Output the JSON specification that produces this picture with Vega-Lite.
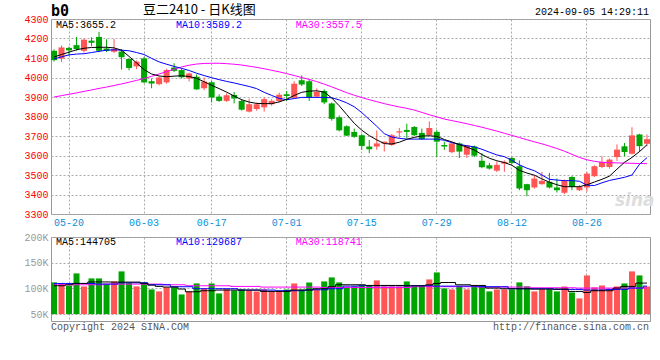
{
  "$schema": "https://vega.github.io/schema/vega-lite/v6.json",
  "background": "white",
  "padding": {"left": 23, "top": 3, "right": 5, "bottom": 5},
  "spacing": 3,
  "config": {
    "view": {"stroke": "#999999", "strokeWidth": 1},
    "axis": {"ticks": false, "domain": false, "gridDash": [2, 2], "gridColor": "#aaaaaa", "gridOpacity": 1, "labelFont": "Liberation Mono", "labelFontSize": 10},
    "text": {"font": "Liberation Mono", "fontSize": 10},
    "line": {"strokeWidth": 1}
  },
  "datasets": {
    "k": [
      {"d":"05-16","o":4137,"h":4144,"l":4082,"c":4089,"v":111700,"m5":4105,"m10":4095,"m30":3900,"w5":105200,"w10":109700,"w30":107100},
      {"d":"05-17","o":4097,"h":4164,"l":4080,"c":4154,"v":108400,"m5":4118,"m10":4106,"m30":3907,"w5":105200,"w10":109700,"w30":107100},
      {"d":"05-20","o":4152,"h":4158,"l":4112,"c":4139,"v":105200,"m5":4130,"m10":4116,"m30":3914,"w5":107100,"w10":109700,"w30":107100},
      {"d":"05-21","o":4166,"h":4208,"l":4138,"c":4146,"v":129200,"m5":4142,"m10":4120,"m30":3921,"w5":109700,"w10":109700,"w30":107100},
      {"d":"05-22","o":4137,"h":4198,"l":4128,"c":4194,"v":103900,"m5":4150,"m10":4122,"m30":3929,"w5":109700,"w10":109700,"w30":107100},
      {"d":"05-23","o":4189,"h":4206,"l":4160,"c":4178,"v":119500,"m5":4154,"m10":4128,"m30":3936,"w5":112600,"w10":109700,"w30":107100},
      {"d":"05-24","o":4208,"h":4234,"l":4130,"c":4137,"v":119500,"m5":4155,"m10":4134,"m30":3944,"w5":112600,"w10":108400,"w30":107100},
      {"d":"05-27","o":4149,"h":4196,"l":4130,"c":4136,"v":108400,"m5":4155,"m10":4140,"m30":3951,"w5":112600,"w10":108400,"w30":108400},
      {"d":"05-28","o":4132,"h":4198,"l":4126,"c":4147,"v":113600,"m5":4152,"m10":4142,"m30":3959,"w5":112300,"w10":108400,"w30":108400},
      {"d":"05-29","o":4133,"h":4146,"l":4041,"c":4104,"v":133100,"m5":4140,"m10":4140,"m30":3967,"w5":112300,"w10":111000,"w30":108400},
      {"d":"05-30","o":4095,"h":4097,"l":4037,"c":4049,"v":110400,"m5":4108,"m10":4137,"m30":3976,"w5":112300,"w10":111000,"w30":108400},
      {"d":"05-31","o":4057,"h":4087,"l":4043,"c":4081,"v":103900,"m5":4075,"m10":4128,"m30":3985,"w5":112300,"w10":111000,"w30":108400},
      {"d":"06-03","o":4098,"h":4106,"l":3970,"c":3975,"v":111700,"m5":4040,"m10":4118,"m30":3995,"w5":109700,"w10":111000,"w30":108400},
      {"d":"06-04","o":3981,"h":3994,"l":3945,"c":3969,"v":98100,"m5":4018,"m10":4098,"m30":4006,"w5":106500,"w10":107100,"w30":108400},
      {"d":"06-05","o":3966,"h":4004,"l":3960,"c":4000,"v":94200,"m5":4008,"m10":4080,"m30":4018,"w5":104000,"w10":107100,"w30":108400},
      {"d":"06-06","o":3975,"h":4045,"l":3968,"c":4038,"v":102000,"m5":4004,"m10":4068,"m30":4030,"w5":102600,"w10":107100,"w30":107100},
      {"d":"06-07","o":4051,"h":4073,"l":4028,"c":4034,"v":102000,"m5":4007,"m10":4057,"m30":4042,"w5":102600,"w10":103300,"w30":107100},
      {"d":"06-11","o":4038,"h":4046,"l":3996,"c":4001,"v":88300,"m5":4009,"m10":4047,"m30":4054,"w5":98800,"w10":103300,"w30":107100},
      {"d":"06-12","o":3995,"h":4025,"l":3980,"c":4021,"v":94200,"m5":4005,"m10":4036,"m30":4063,"w5":93500,"w10":103300,"w30":105200},
      {"d":"06-13","o":4004,"h":4016,"l":3937,"c":3939,"v":109700,"m5":3996,"m10":4022,"m30":4069,"w5":93500,"w10":99400,"w30":105200},
      {"d":"06-14","o":3945,"h":4000,"l":3935,"c":3980,"v":100000,"m5":3978,"m10":4010,"m30":4072,"w5":95500,"w10":99400,"w30":105200},
      {"d":"06-17","o":3976,"h":3982,"l":3872,"c":3897,"v":109700,"m5":3960,"m10":3999,"m30":4073,"w5":95500,"w10":99400,"w30":105200},
      {"d":"06-18","o":3902,"h":3914,"l":3875,"c":3880,"v":90300,"m5":3943,"m10":3989,"m30":4073,"w5":96800,"w10":99400,"w30":105200},
      {"d":"06-19","o":3880,"h":3919,"l":3875,"c":3909,"v":98100,"m5":3925,"m10":3980,"m30":4071,"w5":96800,"w10":99400,"w30":105200},
      {"d":"06-20","o":3910,"h":3926,"l":3867,"c":3892,"v":96100,"m5":3905,"m10":3972,"m30":4068,"w5":96800,"w10":99400,"w30":103900},
      {"d":"06-21","o":3880,"h":3889,"l":3830,"c":3835,"v":98100,"m5":3886,"m10":3963,"m30":4064,"w5":96800,"w10":96800,"w30":103900},
      {"d":"06-24","o":3825,"h":3892,"l":3821,"c":3863,"v":96100,"m5":3874,"m10":3954,"m30":4058,"w5":96800,"w10":96800,"w30":103900},
      {"d":"06-25","o":3838,"h":3872,"l":3830,"c":3863,"v":94200,"m5":3867,"m10":3943,"m30":4052,"w5":96800,"w10":96800,"w30":103900},
      {"d":"06-26","o":3847,"h":3897,"l":3825,"c":3889,"v":98100,"m5":3866,"m10":3924,"m30":4045,"w5":94200,"w10":96800,"w30":102600},
      {"d":"06-27","o":3863,"h":3889,"l":3855,"c":3880,"v":94200,"m5":3866,"m10":3908,"m30":4037,"w5":94200,"w10":96800,"w30":102600},
      {"d":"06-28","o":3880,"h":3922,"l":3872,"c":3912,"v":94200,"m5":3875,"m10":3893,"m30":4029,"w5":94200,"w10":95500,"w30":102600},
      {"d":"07-01","o":3914,"h":3931,"l":3880,"c":3905,"v":98100,"m5":3888,"m10":3886,"m30":4020,"w5":94200,"w10":95500,"w30":102600},
      {"d":"07-02","o":3897,"h":3981,"l":3892,"c":3968,"v":109700,"m5":3908,"m10":3892,"m30":4010,"w5":96800,"w10":95500,"w30":102600},
      {"d":"07-03","o":3986,"h":4011,"l":3956,"c":3964,"v":98100,"m5":3924,"m10":3898,"m30":4000,"w5":96800,"w10":95500,"w30":102600},
      {"d":"07-04","o":3981,"h":3989,"l":3880,"c":3897,"v":111700,"m5":3930,"m10":3898,"m30":3990,"w5":96800,"w10":97400,"w30":102600},
      {"d":"07-05","o":3902,"h":3944,"l":3897,"c":3927,"v":98100,"m5":3932,"m10":3898,"m30":3979,"w5":99400,"w10":97400,"w30":102600},
      {"d":"07-08","o":3931,"h":3939,"l":3863,"c":3872,"v":113600,"m5":3925,"m10":3898,"m30":3966,"w5":99400,"w10":97400,"w30":101800},
      {"d":"07-09","o":3867,"h":3872,"l":3779,"c":3788,"v":121400,"m5":3895,"m10":3896,"m30":3952,"w5":103300,"w10":99400,"w30":101800},
      {"d":"07-10","o":3796,"h":3805,"l":3724,"c":3729,"v":111700,"m5":3855,"m10":3885,"m30":3937,"w5":107100,"w10":99400,"w30":101800},
      {"d":"07-11","o":3750,"h":3755,"l":3700,"c":3702,"v":102000,"m5":3810,"m10":3870,"m30":3922,"w5":107100,"w10":104500,"w30":101800},
      {"d":"07-12","o":3721,"h":3738,"l":3691,"c":3696,"v":103900,"m5":3765,"m10":3850,"m30":3909,"w5":107100,"w10":104500,"w30":101800},
      {"d":"07-15","o":3704,"h":3710,"l":3629,"c":3649,"v":105800,"m5":3730,"m10":3820,"m30":3897,"w5":107100,"w10":105200,"w30":101800},
      {"d":"07-16","o":3646,"h":3679,"l":3612,"c":3632,"v":105800,"m5":3702,"m10":3785,"m30":3886,"w5":105800,"w10":105200,"w30":101800},
      {"d":"07-17","o":3646,"h":3729,"l":3629,"c":3662,"v":115600,"m5":3680,"m10":3750,"m30":3876,"w5":105800,"w10":105200,"w30":101800},
      {"d":"07-18","o":3662,"h":3671,"l":3620,"c":3671,"v":103900,"m5":3661,"m10":3712,"m30":3866,"w5":105800,"w10":105200,"w30":101800},
      {"d":"07-19","o":3654,"h":3710,"l":3649,"c":3704,"v":103900,"m5":3659,"m10":3695,"m30":3857,"w5":105800,"w10":105200,"w30":101800},
      {"d":"07-22","o":3718,"h":3741,"l":3688,"c":3724,"v":103900,"m5":3668,"m10":3688,"m30":3849,"w5":105800,"w10":105200,"w30":101800},
      {"d":"07-23","o":3731,"h":3763,"l":3688,"c":3721,"v":113600,"m5":3683,"m10":3684,"m30":3842,"w5":105200,"w10":105200,"w30":101800},
      {"d":"07-24","o":3746,"h":3751,"l":3700,"c":3704,"v":103900,"m5":3693,"m10":3684,"m30":3833,"w5":105200,"w10":105200,"w30":103300},
      {"d":"07-25","o":3716,"h":3738,"l":3680,"c":3684,"v":105800,"m5":3700,"m10":3684,"m30":3821,"w5":105200,"w10":105200,"w30":103300},
      {"d":"07-26","o":3704,"h":3775,"l":3700,"c":3741,"v":117500,"m5":3701,"m10":3684,"m30":3809,"w5":107000,"w10":105200,"w30":103300},
      {"d":"07-29","o":3721,"h":3730,"l":3592,"c":3671,"v":131100,"m5":3698,"m10":3684,"m30":3798,"w5":109700,"w10":104500,"w30":103300},
      {"d":"07-30","o":3654,"h":3671,"l":3629,"c":3646,"v":100000,"m5":3682,"m10":3678,"m30":3787,"w5":111500,"w10":104500,"w30":103300},
      {"d":"07-31","o":3617,"h":3667,"l":3612,"c":3662,"v":98100,"m5":3670,"m10":3666,"m30":3779,"w5":111500,"w10":104500,"w30":103300},
      {"d":"08-01","o":3662,"h":3667,"l":3587,"c":3620,"v":103900,"m5":3656,"m10":3657,"m30":3771,"w5":107100,"w10":104500,"w30":103300},
      {"d":"08-02","o":3604,"h":3654,"l":3587,"c":3651,"v":98100,"m5":3643,"m10":3650,"m30":3763,"w5":107100,"w10":104500,"w30":103300},
      {"d":"08-05","o":3646,"h":3651,"l":3592,"c":3599,"v":105800,"m5":3628,"m10":3644,"m30":3754,"w5":105800,"w10":104500,"w30":103300},
      {"d":"08-06","o":3573,"h":3612,"l":3535,"c":3540,"v":105800,"m5":3605,"m10":3632,"m30":3745,"w5":105800,"w10":103300,"w30":102600},
      {"d":"08-07","o":3550,"h":3562,"l":3528,"c":3533,"v":94200,"m5":3586,"m10":3617,"m30":3735,"w5":100700,"w10":103300,"w30":102600},
      {"d":"08-08","o":3522,"h":3570,"l":3515,"c":3552,"v":98100,"m5":3573,"m10":3603,"m30":3725,"w5":100700,"w10":103300,"w30":102600},
      {"d":"08-09","o":3558,"h":3575,"l":3516,"c":3567,"v":98100,"m5":3564,"m10":3594,"m30":3714,"w5":99400,"w10":103300,"w30":102600},
      {"d":"08-12","o":3587,"h":3592,"l":3555,"c":3562,"v":98100,"m5":3550,"m10":3575,"m30":3703,"w5":99400,"w10":99400,"w30":102600},
      {"d":"08-13","o":3545,"h":3575,"l":3422,"c":3431,"v":111700,"m5":3524,"m10":3552,"m30":3692,"w5":99400,"w10":99400,"w30":102600},
      {"d":"08-14","o":3453,"h":3455,"l":3391,"c":3422,"v":103900,"m5":3510,"m10":3535,"m30":3681,"w5":99400,"w10":99400,"w30":102600},
      {"d":"08-15","o":3436,"h":3499,"l":3430,"c":3482,"v":94200,"m5":3499,"m10":3522,"m30":3670,"w5":98700,"w10":99400,"w30":101300},
      {"d":"08-16","o":3453,"h":3516,"l":3450,"c":3470,"v":98100,"m5":3480,"m10":3500,"m30":3660,"w5":98700,"w10":99400,"w30":101300},
      {"d":"08-19","o":3465,"h":3511,"l":3431,"c":3436,"v":98100,"m5":3463,"m10":3478,"m30":3648,"w5":98700,"w10":99400,"w30":101300},
      {"d":"08-20","o":3436,"h":3482,"l":3410,"c":3422,"v":94200,"m5":3450,"m10":3474,"m30":3636,"w5":98700,"w10":98100,"w30":101300},
      {"d":"08-21","o":3409,"h":3477,"l":3402,"c":3470,"v":103900,"m5":3440,"m10":3471,"m30":3622,"w5":98700,"w10":98100,"w30":101300},
      {"d":"08-22","o":3490,"h":3494,"l":3422,"c":3439,"v":92200,"m5":3440,"m10":3471,"m30":3606,"w5":94200,"w10":98100,"w30":101300},
      {"d":"08-23","o":3422,"h":3448,"l":3418,"c":3439,"v":80600,"m5":3440,"m10":3468,"m30":3590,"w5":94200,"w10":98100,"w30":100700},
      {"d":"08-26","o":3436,"h":3516,"l":3414,"c":3507,"v":125300,"m5":3450,"m10":3448,"m30":3578,"w5":92200,"w10":96800,"w30":100700},
      {"d":"08-27","o":3494,"h":3550,"l":3490,"c":3545,"v":102000,"m5":3464,"m10":3446,"m30":3570,"w5":95500,"w10":96800,"w30":100700},
      {"d":"08-28","o":3541,"h":3596,"l":3535,"c":3567,"v":105800,"m5":3478,"m10":3460,"m30":3565,"w5":95500,"w10":96800,"w30":100700},
      {"d":"08-29","o":3541,"h":3584,"l":3533,"c":3579,"v":98100,"m5":3494,"m10":3472,"m30":3563,"w5":95500,"w10":98100,"w30":100700},
      {"d":"08-30","o":3592,"h":3657,"l":3572,"c":3630,"v":103900,"m5":3530,"m10":3480,"m30":3562,"w5":100700,"w10":98100,"w30":100700},
      {"d":"09-02","o":3647,"h":3664,"l":3596,"c":3618,"v":109700,"m5":3565,"m10":3488,"m30":3561,"w5":103900,"w10":98100,"w30":100700},
      {"d":"09-03","o":3609,"h":3745,"l":3605,"c":3703,"v":133100,"m5":3590,"m10":3500,"m30":3560,"w5":103900,"w10":100700,"w30":100700},
      {"d":"09-04","o":3708,"h":3711,"l":3618,"c":3648,"v":125300,"m5":3620,"m10":3555,"m30":3559,"w5":110400,"w10":100700,"w30":100700},
      {"d":"09-05","o":3660,"h":3708,"l":3647,"c":3684,"v":103900,"m5":3655,"m10":3589,"m30":3558,"w5":110400,"w10":104500,"w30":100700}
    ]
  },
  "vconcat": [
    {
      "width": 599,
      "height": 195,
      "data": {"name": "k"},
      "encoding": {
        "x": {
          "field": "d", "type": "ordinal",
          "scale": {"paddingInner": 0.2, "paddingOuter": 0},
          "axis": {"values": ["05-20","06-03","06-17","07-01","07-15","07-29","08-12","08-26"], "title": null, "labelAngle": 0, "labelColor": "#0a8fdc", "labelPadding": 3, "grid": true, "labelOverlap": false}
        }
      },
      "layer": [
        {
          "mark": {"type": "rule", "strokeWidth": 1},
          "encoding": {
            "y": {"field": "l", "type": "quantitative", "scale": {"domain": [3300, 4300], "nice": false, "zero": false},
                  "axis": {"values": [3300,3400,3500,3600,3700,3800,3900,4000,4100,4200,4300], "tickCount": 11, "format": "d", "title": null, "labelColor": "#ff0000", "labelPadding": 3, "grid": true, "labelOverlap": false, "labelFlush": false, "labelBound": false}},
            "y2": {"field": "h"},
            "color": {"condition": {"test": "datum.c >= datum.o", "value": "#ff5555"}, "value": "#00a400"}
          }
        },
        {
          "mark": {"type": "bar"},
          "encoding": {
            "y": {"field": "o", "type": "quantitative"},
            "y2": {"field": "c"},
            "color": {"condition": {"test": "datum.c >= datum.o", "value": "#ff5555"}, "value": "#00a400"}
          }
        },
        {"mark": {"type": "line", "color": "#ff00ff"}, "encoding": {"y": {"field": "m30", "type": "quantitative"}}},
        {"mark": {"type": "line", "color": "#0000ff"}, "encoding": {"y": {"field": "m10", "type": "quantitative"}}},
        {"mark": {"type": "line", "color": "#000000"}, "encoding": {"y": {"field": "m5", "type": "quantitative"}}},
        {
          "data": {"values": [{"t": "sina"}]},
          "mark": {"type": "text", "align": "left", "baseline": "middle", "dx": -2, "dy": -13, "font": "DejaVu Sans", "fontWeight": "bold", "fontStyle": "italic", "fontSize": 17, "color": "#dddddd"},
          "encoding": {"x": {"datum": "08-30", "type": "ordinal"}, "y": {"datum": 3300, "type": "quantitative"}, "text": {"field": "t"}}
        },
        {
          "data": {"values": [{"t": "b0"}]},
          "mark": {"type": "text", "align": "left", "baseline": "middle", "dx": -3, "dy": -8, "font": "DejaVu Sans Mono", "fontWeight": "bold", "fontSize": 15, "color": "#000000"},
          "encoding": {"x": {"datum": "05-16", "type": "ordinal"}, "y": {"datum": 4300, "type": "quantitative"}, "text": {"field": "t"}}
        },
        {
          "data": {"values": [{"t": "豆二2410 - 日K线图"}]},
          "mark": {"type": "text", "align": "left", "baseline": "middle", "dx": -1, "dy": -9, "font": "Noto Sans CJK SC", "fontSize": 13, "color": "#000000"},
          "encoding": {"x": {"datum": "06-03", "type": "ordinal"}, "y": {"datum": 4300, "type": "quantitative"}, "text": {"field": "t"}}
        },
        {
          "data": {"values": [{"t": "2024-09-05 14:29:11"}]},
          "mark": {"type": "text", "align": "right", "baseline": "middle", "dx": 2, "dy": -7, "color": "#000000"},
          "encoding": {"x": {"datum": "09-05", "type": "ordinal"}, "y": {"datum": 4300, "type": "quantitative"}, "text": {"field": "t"}}
        },
        {
          "data": {"values": [{"t": "MA5:3655.2"}]},
          "mark": {"type": "text", "align": "left", "baseline": "middle", "dx": 2, "dy": 5.5, "color": "#000000"},
          "encoding": {"x": {"datum": "05-16", "type": "ordinal"}, "y": {"datum": 4300, "type": "quantitative"}, "text": {"field": "t"}}
        },
        {
          "data": {"values": [{"t": "MA10:3589.2"}]},
          "mark": {"type": "text", "align": "left", "baseline": "middle", "dx": 2, "dy": 5.5, "color": "#0000ff"},
          "encoding": {"x": {"datum": "06-07", "type": "ordinal"}, "y": {"datum": 4300, "type": "quantitative"}, "text": {"field": "t"}}
        },
        {
          "data": {"values": [{"t": "MA30:3557.5"}]},
          "mark": {"type": "text", "align": "left", "baseline": "middle", "dx": 1.5, "dy": 5.5, "color": "#ff00ff"},
          "encoding": {"x": {"datum": "07-02", "type": "ordinal"}, "y": {"datum": 4300, "type": "quantitative"}, "text": {"field": "t"}}
        }
      ]
    },
    {
      "width": 599,
      "height": 84,
      "data": {"name": "k"},
      "encoding": {
        "x": {
          "field": "d", "type": "ordinal",
          "scale": {"paddingInner": 0.2, "paddingOuter": 0},
          "axis": {"values": ["05-20","06-03","06-17","07-01","07-15","07-29","08-12","08-26"], "title": null, "labels": false, "grid": true}
        }
      },
      "layer": [
        {
          "mark": {"type": "bar"},
          "encoding": {
            "y": {"field": "v", "type": "quantitative", "scale": {"domain": [36660, 200000], "nice": false, "zero": false},
                  "axis": {"values": [50000, 100000, 150000, 200000], "tickCount": 4, "labelExpr": "(datum.value / 1000) + 'K'", "title": null, "labelColor": "#999999", "labelPadding": 3, "grid": true, "labelOverlap": false, "labelFlush": false, "labelBound": false}},
            "y2": {"datum": 50000},
            "color": {"condition": {"test": "datum.c >= datum.o", "value": "#ff5555"}, "value": "#00a400"}
          }
        },
        {"mark": {"type": "line", "color": "#ff00ff", "interpolate": "step"}, "encoding": {"y": {"field": "w30", "type": "quantitative"}}},
        {"mark": {"type": "line", "color": "#0000ff", "interpolate": "step"}, "encoding": {"y": {"field": "w10", "type": "quantitative"}}},
        {"mark": {"type": "line", "color": "#000000", "interpolate": "step"}, "encoding": {"y": {"field": "w5", "type": "quantitative"}}},
        {
          "data": {"values": [{"t": "MA5:144705"}]},
          "mark": {"type": "text", "align": "left", "baseline": "middle", "dx": 2, "dy": 4.5, "color": "#000000"},
          "encoding": {"x": {"datum": "05-16", "type": "ordinal"}, "y": {"datum": 200000, "type": "quantitative"}, "text": {"field": "t"}}
        },
        {
          "data": {"values": [{"t": "MA10:129687"}]},
          "mark": {"type": "text", "align": "left", "baseline": "middle", "dx": 2, "dy": 4.5, "color": "#0000ff"},
          "encoding": {"x": {"datum": "06-07", "type": "ordinal"}, "y": {"datum": 200000, "type": "quantitative"}, "text": {"field": "t"}}
        },
        {
          "data": {"values": [{"t": "MA30:118741"}]},
          "mark": {"type": "text", "align": "left", "baseline": "middle", "dx": 1.5, "dy": 4.5, "color": "#ff00ff"},
          "encoding": {"x": {"datum": "07-02", "type": "ordinal"}, "y": {"datum": 200000, "type": "quantitative"}, "text": {"field": "t"}}
        },
        {
          "data": {"values": [{"t": "Copyright 2024 SINA.COM"}]},
          "mark": {"type": "text", "align": "left", "baseline": "middle", "dx": -3, "dy": 5.5, "color": "#555555"},
          "encoding": {"x": {"datum": "05-16", "type": "ordinal"}, "y": {"datum": 36660, "type": "quantitative"}, "text": {"field": "t"}}
        },
        {
          "data": {"values": [{"t": "http://finance.sina.com.cn"}]},
          "mark": {"type": "text", "align": "right", "baseline": "middle", "dx": 2, "dy": 5.5, "color": "#555555"},
          "encoding": {"x": {"datum": "09-05", "type": "ordinal"}, "y": {"datum": 36660, "type": "quantitative"}, "text": {"field": "t"}}
        }
      ]
    }
  ]
}
